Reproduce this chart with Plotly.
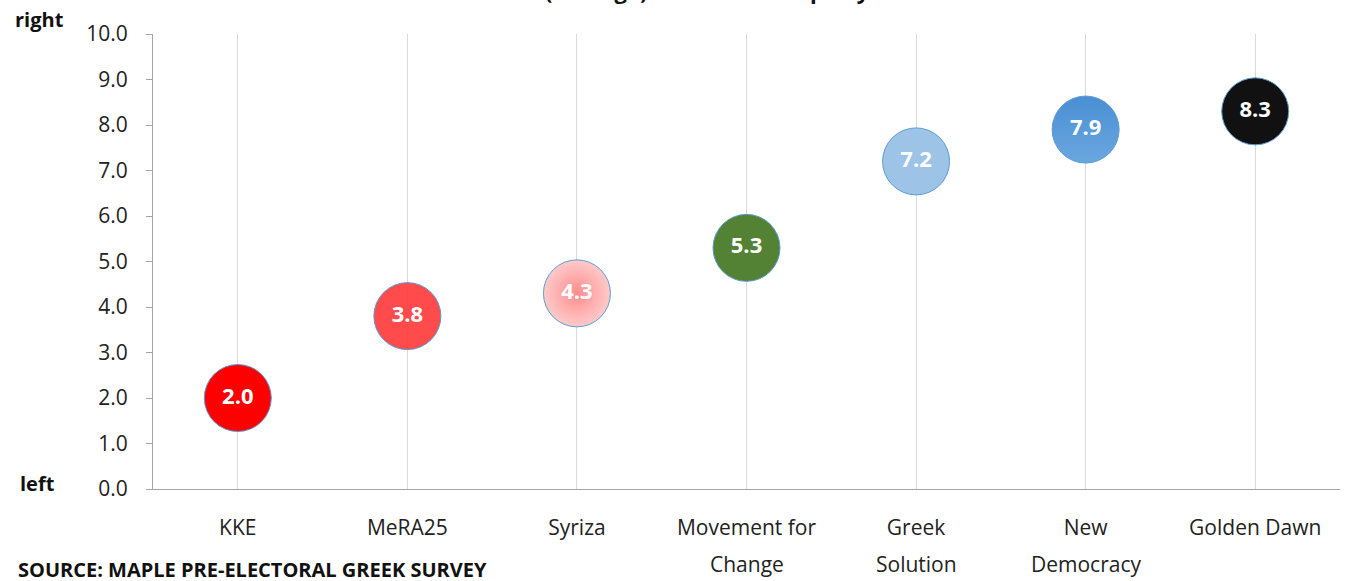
import plotly.graph_objects as go

parties = ["KKE", "MeRA25", "Syriza", "Movement for Change", "Greek Solution", "New Democracy", "Golden Dawn"]
label_line1 = ["KKE", "MeRA25", "Syriza", "Movement for", "Greek", "New", "Golden Dawn"]
label_line2 = ["", "", "", "Change", "Solution", "Democracy", ""]
scores = [2.0, 3.8, 4.3, 5.3, 7.2, 7.9, 8.3]
colors = ["#FF0000", "rgba(255,60,60,0.92)", "#FFCACA", "#548235", "#9DC3E6", "#4A8FD3", "#111111"]
grad_types = ["none", "none", "radial", "none", "none", "vertical", "none"]
grad_colors = ["#FF0000", "#FF4B4B", "#FF8C8C", "#548235", "#9DC3E6", "#6AA7E0", "#111111"]
y_ticks = [0, 1, 2, 3, 4, 5, 6, 7, 8, 9, 10]

font = "Open Sans, Noto Sans, sans-serif"

fig = go.Figure()
for i, (p, s) in enumerate(zip(parties, scores)):
    fig.add_trace(go.Scatter(
        x=[p], y=[s], mode="markers+text",
        text=[f"{s:.1f}"], textposition="middle center",
        textfont=dict(family=font, size=22, color="white", weight="bold"),
        marker=dict(size=67, color=colors[i],
                    gradient=dict(type=grad_types[i], color=grad_colors[i]),
                    line=dict(color="#5B9BD5", width=1)),
        showlegend=False, cliponaxis=False, hoverinfo="skip",
    ))

annotations = [
    dict(text="<b>right</b>", xref="paper", yref="paper", x=-0.096, y=1.032,
         xanchor="center", yanchor="middle", showarrow=False,
         font=dict(size=20, family=font, color="#111111")),
    dict(text="<b>left</b>", xref="paper", yref="paper", x=-0.097, y=0.011,
         xanchor="center", yanchor="middle", showarrow=False,
         font=dict(size=20, family=font, color="#111111")),
    dict(text="<b>SOURCE: MAPLE PRE-ELECTORAL GREEK SURVEY</b>", xref="paper", yref="paper",
         x=-0.1155, y=-0.176, xanchor="left", yanchor="middle", showarrow=False,
         font=dict(size=20, family=font, color="#111111")),
    dict(text="<b>Left–right placement of the parties<br>(average) of each Greek party</b>",
         xref="paper", yref="paper", x=0.3285, y=1.0, xanchor="left", yanchor="bottom",
         align="left", yshift=27, showarrow=False,
         font=dict(size=22, family=font, color="#111111")),
]
for p, l2 in zip(parties, label_line2):
    if l2:
        annotations.append(dict(text=l2, x=p, xref="x", yref="paper", y=-0.165,
                                xanchor="center", yanchor="middle", showarrow=False,
                                font=dict(size=21, family=font, color="#222222")))

fig.update_layout(
    width=1348, height=581,
    margin=dict(l=153, r=8, t=34, b=92),
    plot_bgcolor="white", paper_bgcolor="white",
    font=dict(family=font, size=20, color="#222222"),
    xaxis=dict(type="category", categoryorder="array", categoryarray=parties,
               tickvals=parties, ticktext=label_line1,
               range=[-0.5, 6.5], showgrid=True, gridcolor="#D9D9D9", gridwidth=1,
               showline=True, linecolor="#A6A6A6", linewidth=1,
               tickfont=dict(size=21, family=font, color="#222222"), ticks="",
               ticklabelstandoff=20),
    yaxis=dict(range=[0, 10], tickvals=y_ticks, ticktext=[f"{v:.1f}" for v in y_ticks],
               showgrid=False, zeroline=False, showline=True, linecolor="#A6A6A6", linewidth=1,
               ticks="outside", ticklen=6, tickcolor="#A6A6A6",
               tickfont=dict(size=21, family=font, color="#222222"), ticklabelstandoff=14),
    annotations=annotations,
)

fig.write_html("out.html", config={"displayModeBar": False},
               post_script="document.body.style.margin='0';")
